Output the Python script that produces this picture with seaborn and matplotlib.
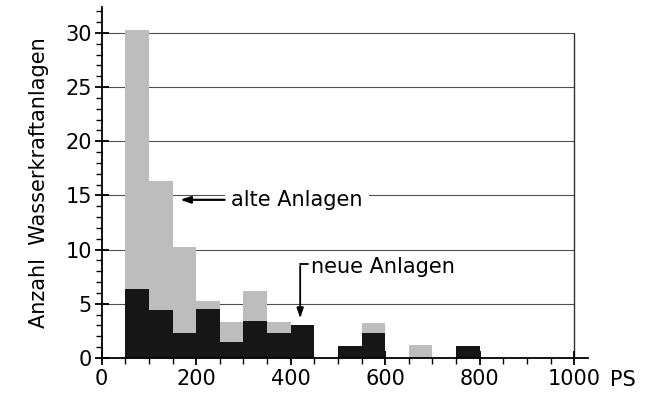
import pandas as pd
import matplotlib
matplotlib.use("Agg")
import matplotlib.pyplot as plt
from matplotlib.ticker import MultipleLocator
import seaborn as sns

# Leistungsklassen (linke Klassengrenze, PS), Klassenbreite 50 PS
BIN_LEFT = [50, 100, 150, 200, 250, 300, 350, 400, 450, 500, 550, 600, 650, 700, 750]
BIN_WIDTH = 50
# Anzahl neue Anlagen (dunkel) und alte Anlagen (hell, oben aufgestapelt)
NEUE = [6.4, 4.4, 2.3, 4.5, 1.5, 3.4, 2.3, 3.0, 0, 1.1, 2.3, 0, 0, 0, 1.1]
ALTE = [23.9, 11.9, 7.95, 0.8, 1.8, 2.8, 1.0, 0, 0, 0, 0.9, 0, 1.2, 0, 0]

X_TICKS = [0, 200, 400, 600, 800, 1000]
Y_TICKS = [0, 5, 10, 15, 20, 25, 30]

LIGHT = "#bdbdbd"
DARK = "#161616"
FS = 15

sns.set_style("white")
plt.rcParams["font.family"] = ["DejaVu Sans"]
plt.rcParams["text.color"] = "black"
plt.rcParams["xtick.color"] = "black"
plt.rcParams["ytick.color"] = "black"
plt.rcParams["axes.labelcolor"] = "black"

df = pd.concat([
    pd.DataFrame({"ps": [b + BIN_WIDTH / 2 for b in BIN_LEFT], "anzahl": ALTE, "typ": "alte"}),
    pd.DataFrame({"ps": [b + BIN_WIDTH / 2 for b in BIN_LEFT], "anzahl": NEUE, "typ": "neue"}),
], ignore_index=True)

fig = plt.figure(figsize=(6.52, 4.03), dpi=100)
ax = fig.add_axes([0.156, 0.1117, 0.7465, 0.871])

# grid lines behind the bars
for y in Y_TICKS[1:]:
    ax.plot([0, 1000], [y, y], color="#505050", lw=0.8, zorder=0)
ax.plot([1000, 1000], [0, 30], color="#303030", lw=1.0, zorder=0)

sns.histplot(
    data=df, x="ps", weights="anzahl", hue="typ", hue_order=["alte", "neue"],
    multiple="stack", bins=list(range(50, 850, BIN_WIDTH)),
    palette={"alte": LIGHT, "neue": DARK}, element="bars",
    edgecolor="none", alpha=1, legend=False, ax=ax, zorder=2,
)

ax.set_xlim(0, 1030)
ax.set_ylim(0, 32.4)
ax.set_xticks(X_TICKS)
ax.set_yticks(Y_TICKS)
ax.xaxis.set_minor_locator(MultipleLocator(50))
ax.yaxis.set_minor_locator(MultipleLocator(1))
ax.tick_params(which="both", bottom=True, left=True, top=False, right=False)
ax.tick_params(which="major", direction="inout", length=10, width=1.3, labelsize=FS)
ax.tick_params(which="minor", direction="out", length=4, width=1.0)
ax.tick_params(axis="x", pad=3)
ax.tick_params(axis="y", pad=2)

for side in ["top", "right"]:
    ax.spines[side].set_visible(False)
for side in ["left", "bottom"]:
    ax.spines[side].set_color("black")
    ax.spines[side].set_linewidth(1.3)

ax.set_xlabel("")
ax.set_ylabel("Anzahl  Wasserkraftanlagen", fontsize=FS, labelpad=12)

ax.annotate("PS", xy=(1.045, 0), xycoords="axes fraction", xytext=(0, -9),
            textcoords="offset points", ha="left", va="top", fontsize=FS)

ax.text(274, 14.6, "alte Anlagen", fontsize=FS, ha="left", va="center", zorder=3,
        bbox=dict(boxstyle="square,pad=0.3", fc="white", ec="none"))
ax.annotate("", xy=(160, 14.6), xytext=(266, 14.6), zorder=3,
            arrowprops=dict(arrowstyle="-|>,head_length=0.6,head_width=0.2", color="black", lw=1.6))

ax.text(443, 8.4, "neue Anlagen", fontsize=FS, ha="left", va="center", zorder=3)
ax.plot([420, 436], [8.7, 8.7], color="black", lw=1.3, zorder=3)
ax.annotate("", xy=(420, 3.4), xytext=(420, 8.75), zorder=3,
            arrowprops=dict(arrowstyle="-|>,head_length=0.6,head_width=0.2", color="black", lw=1.3))

fig.savefig("out.png", dpi=100)
